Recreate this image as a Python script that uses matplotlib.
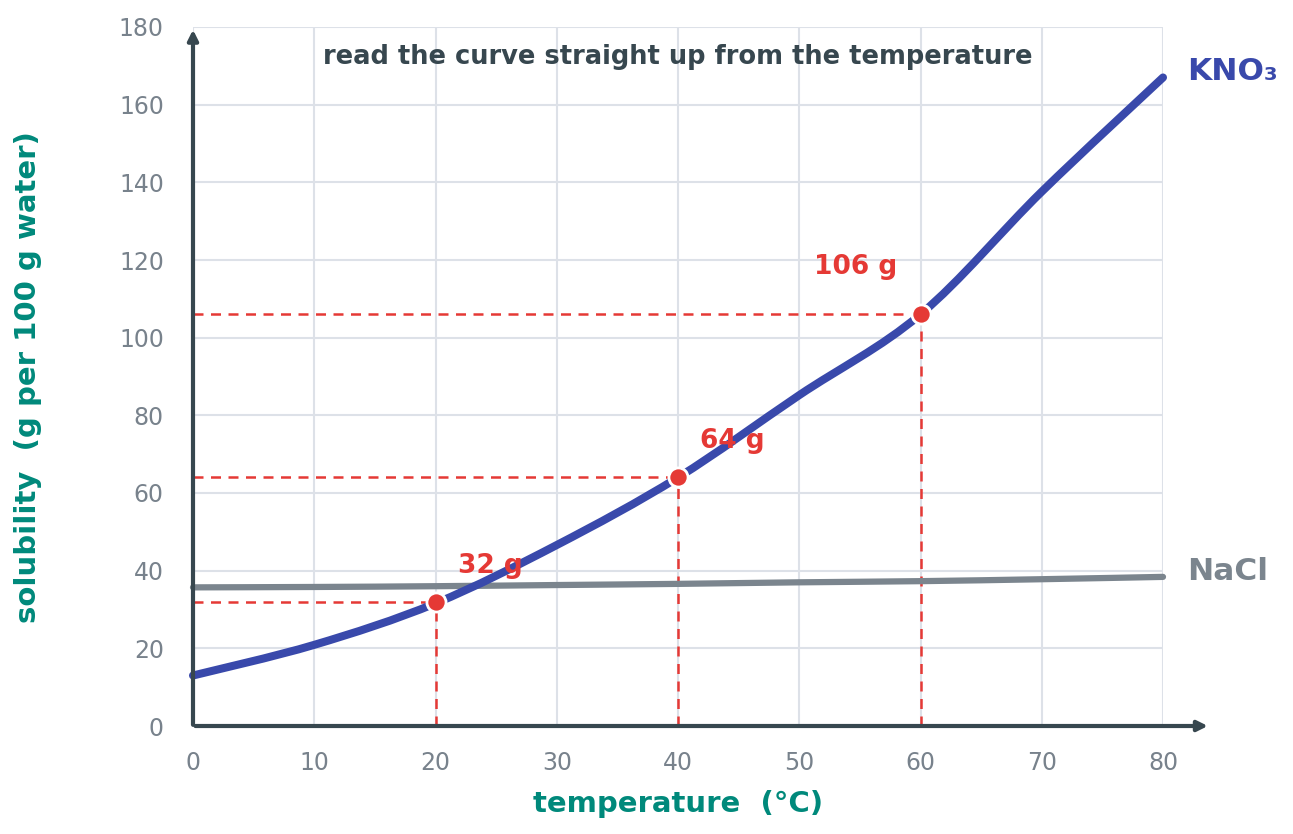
import matplotlib
matplotlib.use("Agg")
import matplotlib.pyplot as plt
from matplotlib.path import Path
from matplotlib.patches import PathPatch

# solubility data (g per 100 g water)
temps = [0, 10, 20, 30, 40, 50, 60, 70, 80]
kno3 = [13, 20.9, 31.6, 46.6, 64, 85.2, 106, 137.6, 167]
nacl = [35.7, 35.8, 36.0, 36.3, 36.6, 37.0, 37.3, 37.8, 38.4]

read_t = [20, 40, 60]
read_s = [32, 64, 106]
read_lbl = ["32 g", "64 g", "106 g"]

x_ticks = [0, 10, 20, 30, 40, 50, 60, 70, 80]
y_ticks = [0, 20, 40, 60, 80, 100, 120, 140, 160, 180]

BLUE = "#3949AB"
GREY = "#7B858E"
RED = "#E53935"
DARK = "#37474F"
TEAL = "#00897B"
TICK = "#78828C"
GRID = "#DDE1E8"


def smooth_path(xs, ys):
    # Catmull-Rom segments turned into cubic Bezier pieces
    verts = [(xs[0], ys[0])]
    codes = [Path.MOVETO]
    n = len(xs)
    for i in range(n - 1):
        x0, y0 = (xs[i - 1], ys[i - 1]) if i > 0 else (xs[i], ys[i])
        x1, y1 = xs[i], ys[i]
        x2, y2 = xs[i + 1], ys[i + 1]
        x3, y3 = (xs[i + 2], ys[i + 2]) if i + 2 < n else (x2, y2)
        c1 = (x1 + (x2 - x0) / 6, y1 + (y2 - y0) / 6)
        c2 = (x2 - (x3 - x1) / 6, y2 - (y3 - y1) / 6)
        verts += [c1, c2, (x2, y2)]
        codes += [Path.CURVE4] * 3
    return Path(verts, codes)


fig = plt.figure(figsize=(12.93, 8.34), dpi=100)
ax = fig.add_axes([193/1293, 108/834, 970/1293, 699/834])

ax.set_xlim(0, 80)
ax.set_ylim(0, 180)
ax.set_xticks(x_ticks)
ax.set_yticks(y_ticks)
ax.grid(True, color=GRID, lw=1.5, zorder=0)
for s in ax.spines.values():
    s.set_visible(False)
ax.tick_params(axis="y", length=0, labelsize=17, labelcolor=TICK, pad=21)
ax.tick_params(axis="x", length=0, labelsize=17, labelcolor=TICK, pad=18)

# axis arrows
ax.annotate("", xy=(0, 179.3), xytext=(0, 0.3), xycoords="data",
            arrowprops=dict(arrowstyle="-|>,head_length=0.6,head_width=0.3",
                            color=DARK, lw=3, shrinkA=0, shrinkB=0),
            annotation_clip=False, zorder=6)
ax.annotate("", xy=(83.7, 0), xytext=(0.2, 0), xycoords="data",
            arrowprops=dict(arrowstyle="-|>,head_length=0.6,head_width=0.3",
                            color=DARK, lw=3, shrinkA=0, shrinkB=0),
            annotation_clip=False, zorder=6)

# reading guides
for t, s in zip(read_t, read_s):
    ax.plot([0, t], [s, s], color=RED, lw=1.8, dashes=(4, 3), zorder=3)
    ax.plot([t, t], [0, s], color=RED, lw=1.8, dashes=(4, 3), zorder=3)

ax.add_patch(PathPatch(smooth_path(temps, nacl), fill=False, edgecolor=GREY, lw=4.5,
                       capstyle="round", zorder=4, clip_on=False))
ax.add_patch(PathPatch(smooth_path(temps, kno3), fill=False, edgecolor=BLUE, lw=5.8,
                       capstyle="round", joinstyle="round", zorder=5, clip_on=False))
ax.scatter(read_t, read_s, s=190, color=RED, edgecolor="white", linewidth=2, zorder=7)

offsets = [(16, 26), (16, 26), (-17, 34)]
aligns = ["left", "left", "right"]
for t, s, lbl, off, ha in zip(read_t, read_s, read_lbl, offsets, aligns):
    ax.annotate(lbl, xy=(t, s), xytext=off, textcoords="offset points",
                ha=ha, va="center", color=RED, fontsize=19, fontweight="bold", zorder=8)

ax.text(82, kno3[-1] + 1.5, "KNO₃", color=BLUE, fontsize=22.5,
        fontweight="bold", va="center", ha="left", clip_on=False)
ax.text(82, nacl[-1] + 1.3, "NaCl", color=GREY, fontsize=22.5,
        fontweight="bold", va="center", ha="left", clip_on=False)

ax.text(40, 172.2, "read the curve straight up from the temperature", color=DARK,
        fontsize=18.5, fontweight="bold", ha="center", va="center")

fig.text(678/1293, 1 - 804/834, "temperature  (°C)", color=TEAL, fontsize=21,
         fontweight="bold", ha="center", va="center")
fig.text(28/1293, 1 - 377/834, "solubility  (g per 100 g water)", color=TEAL, fontsize=21,
         fontweight="bold", ha="center", va="center", rotation=90)

fig.savefig("out.png", dpi=100)
